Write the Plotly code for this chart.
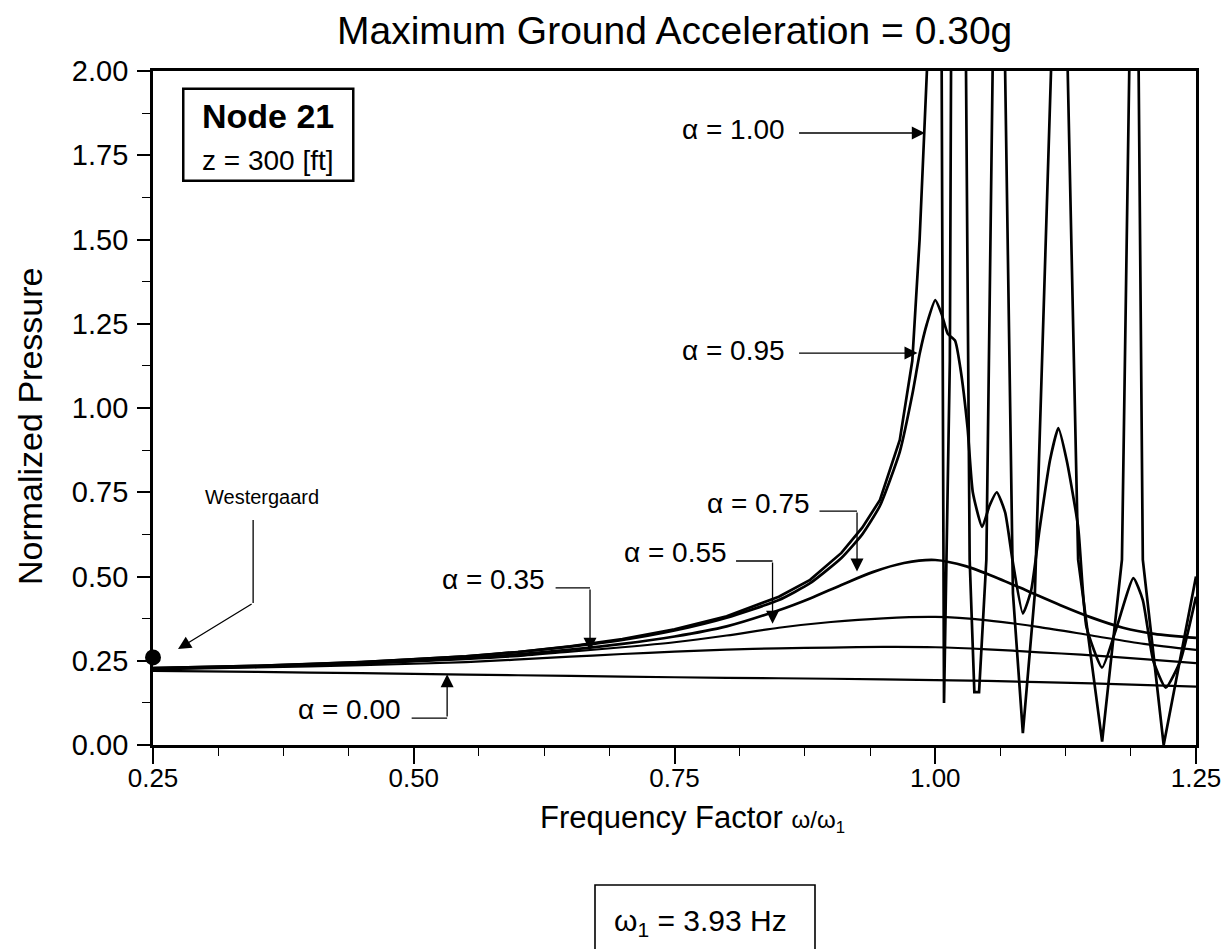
import plotly.graph_objects as go

# ---------------- data ----------------
x_a000 = [0.25, 0.35, 0.45, 0.55, 0.65, 0.75, 0.85, 0.95, 1.05, 1.15, 1.25]
y_a000 = [0.220, 0.217, 0.213, 0.209, 0.205, 0.201, 0.198, 0.195, 0.190, 0.183, 0.173]

x_a035 = [0.25, 0.35, 0.45, 0.55, 0.65, 0.70, 0.75, 0.80, 0.85, 0.90, 0.95, 1.00, 1.05, 1.10, 1.14, 1.20, 1.25]
y_a035 = [0.224, 0.230, 0.237, 0.246, 0.262, 0.270, 0.277, 0.283, 0.287, 0.289, 0.291, 0.290, 0.284, 0.275, 0.268, 0.255, 0.243]

x_a055 = [0.25, 0.35, 0.45, 0.55, 0.60, 0.65, 0.70, 0.75, 0.80, 0.85, 0.90, 0.95, 1.00, 1.05, 1.10, 1.15, 1.20, 1.25]
y_a055 = [0.226, 0.232, 0.241, 0.255, 0.264, 0.277, 0.290, 0.305, 0.325, 0.348, 0.365, 0.376, 0.380, 0.370, 0.350, 0.325, 0.300, 0.282]

x_a075 = [0.25, 0.35, 0.45, 0.55, 0.60, 0.65, 0.70, 0.75, 0.80, 0.85, 0.88, 0.91, 0.94, 0.97, 1.00,
          1.03, 1.06, 1.09, 1.12, 1.15, 1.18, 1.21, 1.25]
y_a075 = [0.227, 0.233, 0.243, 0.258, 0.269, 0.283, 0.300, 0.322, 0.352, 0.400, 0.435, 0.475, 0.513, 0.540, 0.549,
          0.530, 0.495, 0.455, 0.415, 0.378, 0.348, 0.330, 0.318]

x_a095 = [0.25, 0.35, 0.45, 0.55, 0.60, 0.65, 0.70, 0.75, 0.80, 0.85, 0.88, 0.91, 0.93, 0.947, 0.966, 0.978,
          0.985, 0.992, 1.000, 1.006, 1.012, 1.019, 1.024, 1.031, 1.036, 1.045, 1.052, 1.059, 1.067, 1.074,
          1.084, 1.092, 1.100, 1.110, 1.118, 1.126, 1.137, 1.145, 1.160, 1.174, 1.190, 1.199, 1.209, 1.221,
          1.235, 1.25]
y_a095 = [0.228, 0.235, 0.246, 0.263, 0.276, 0.292, 0.312, 0.340, 0.378, 0.430, 0.480, 0.555, 0.625, 0.710, 0.870, 1.040,
          1.160, 1.250, 1.320, 1.280, 1.220, 1.200, 1.120, 0.940, 0.750, 0.647, 0.710, 0.750, 0.690, 0.550,
          0.390, 0.460, 0.640, 0.845, 0.940, 0.845, 0.647, 0.350, 0.230, 0.350, 0.495, 0.430, 0.250, 0.170,
          0.250, 0.440]

x_a100 = [0.25, 0.35, 0.45, 0.55, 0.60, 0.65, 0.70, 0.75, 0.80, 0.85, 0.88, 0.91, 0.93, 0.947, 0.966, 0.978,
          0.985, 0.992, 0.999, 1.0065, 1.0084, 1.014, 1.016, 1.023, 1.0295, 1.033, 1.0375, 1.042, 1.049,
          1.055, 1.061, 1.067, 1.0745, 1.084, 1.0955, 1.111, 1.119, 1.127, 1.137, 1.160, 1.179, 1.186, 1.191,
          1.195, 1.199, 1.219, 1.25]
y_a100 = [0.228, 0.235, 0.246, 0.263, 0.276, 0.293, 0.314, 0.343, 0.382, 0.440, 0.490, 0.570, 0.645, 0.727, 0.905, 1.140,
          1.500, 2.000, 8.000, 2.000, 0.125, 1.140, 2.000, 8.000, 2.000, 0.550, 0.157, 0.157, 0.550,
          2.000, 8.000, 2.000, 0.450, 0.035, 0.450, 2.000, 8.000, 2.000, 0.550, 0.010, 0.550, 2.000, 8.000,
          2.000, 0.550, 0.000, 0.500]

westergaard_x = [0.25]
westergaard_y = [0.26]

x_tickvals = [0.25, 0.50, 0.75, 1.00, 1.25]
x_ticktext = ["0.25", "0.50", "0.75", "1.00", "1.25"]
y_tickvals = [0.00, 0.25, 0.50, 0.75, 1.00, 1.25, 1.50, 1.75, 2.00]
y_ticktext = ["0.00", "0.25", "0.50", "0.75", "1.00", "1.25", "1.50", "1.75", "2.00"]

title_text = "Maximum Ground Acceleration = 0.30g"
ylabel_text = "Normalized Pressure"
xlabel_text = 'Frequency Factor <span style="font-size:24px">ω/ω<sub>1</sub></span>'
omega_text = "ω<sub>1</sub> = 3.93 Hz"

FONT = "Liberation Sans, Arial, Helvetica, sans-serif"

# plot area in page pixels (page has an 8 px body margin)
PX0, PX1, PY0, PY1 = 153, 1196, 71, 745
def px(p):
    return (p - PX0) / (PX1 - PX0)
def py(p):
    return (PY1 - p) / (PY1 - PY0)

fig = go.Figure()
series = [(x_a000, y_a000, 2.2, "spline", 0.8), (x_a035, y_a035, 2.2, "spline", 0.8),
          (x_a055, y_a055, 2.2, "spline", 0.8), (x_a075, y_a075, 2.7, "spline", 0.8),
          (x_a095, y_a095, 2.7, "spline", 0.5), (x_a100, y_a100, 2.7, "linear", None)]
for xs, ys, w, shape, sm in series:
    line = dict(color="black", width=w, shape=shape)
    if sm is not None:
        line["smoothing"] = sm
    fig.add_trace(go.Scatter(x=xs, y=ys, mode="lines", line=line,
                             showlegend=False, hoverinfo="skip"))
fig.add_trace(go.Scatter(x=westergaard_x, y=westergaard_y, mode="markers",
                         marker=dict(color="black", size=16), cliponaxis=False,
                         showlegend=False, hoverinfo="skip"))

ann = []
shapes = []

def label(x, y, text, size=28, xanchor="right", xref="x", yref="y", bold=False, angle=0):
    ann.append(dict(x=x, y=y, xref=xref, yref=yref, text=("<b>%s</b>" % text) if bold else text,
                    showarrow=False, xanchor=xanchor, yanchor="middle", textangle=angle,
                    font=dict(family=FONT, size=size, color="black")))

def arrow(x0, y0, x1, y1):
    ann.append(dict(x=x1, y=y1, ax=x0, ay=y0, xref="x", yref="y", axref="x", ayref="y",
                    text="", showarrow=True, arrowhead=2, arrowsize=2.0, arrowwidth=1.3,
                    arrowcolor="black", standoff=0))

def path(pts):
    d = "M " + " L ".join("%g,%g" % p for p in pts)
    shapes.append(dict(type="path", path=d, xref="x", yref="y",
                       line=dict(color="black", width=1.3)))

# alpha labels with leader arrows
label(0.858, 1.825, "α = 1.00")
arrow(0.868, 1.816, 0.990, 1.816)
label(0.858, 1.172, "α = 0.95")
arrow(0.868, 1.163, 0.983, 1.163)

label(0.882, 0.718, "α = 0.75")
path([(0.889, 0.694), (0.925, 0.694)])
arrow(0.925, 0.694, 0.925, 0.515)

label(0.802, 0.570, "α = 0.55")
path([(0.809, 0.546), (0.844, 0.546)])
arrow(0.844, 0.546, 0.844, 0.360)

label(0.628, 0.490, "α = 0.35")
path([(0.636, 0.466), (0.669, 0.466)])
arrow(0.669, 0.466, 0.669, 0.280)

label(0.490, 0.104, "α = 0.00")
path([(0.498, 0.080), (0.532, 0.080)])
arrow(0.532, 0.080, 0.532, 0.210)

# Westergaard
label(0.3545, 0.736, "Westergaard", size=20, xanchor="center")
path([(0.346, 0.668), (0.346, 0.421)])
arrow(0.346, 0.421, 0.274, 0.285)

# Node box
shapes.append(dict(type="rect", xref="x", yref="y", x0=0.279, x1=0.442, y0=1.674, y1=1.947,
                   line=dict(color="black", width=2.5), fillcolor="white", layer="above"))
label(0.3605, 1.866, "Node 21", size=34, xanchor="center", bold=True)
label(0.3605, 1.733, "z = 300 [ft]", size=28, xanchor="center")

# title
label(0.5, py(30), title_text, size=39, xanchor="center", xref="paper", yref="paper")
# axis titles
label(px(692), py(818), xlabel_text, size=31, xanchor="center", xref="paper", yref="paper")
label(px(30), py(427), ylabel_text, size=34, xanchor="center", xref="paper", yref="paper", angle=-90)
# omega box
shapes.append(dict(type="rect", xref="paper", yref="paper", x0=px(595), x1=px(815),
                   y0=py(990), y1=py(885), line=dict(color="black", width=1.6)))
label(px(700), py(922), omega_text, size=30, xanchor="center", xref="paper", yref="paper")

fig.update_layout(
    width=1224, height=941, autosize=False,
    margin=dict(l=PX0 - 8, r=1232 - PX1, t=PY0 - 8, b=949 - PY1),
    paper_bgcolor="white", plot_bgcolor="white",
    annotations=ann, shapes=shapes,
    font=dict(family=FONT, size=26, color="black"),
    xaxis=dict(range=[0.25, 1.25], tickvals=x_tickvals, ticktext=x_ticktext,
               ticks="outside", ticklen=16, tickwidth=2, tickcolor="black",
               showline=True, linecolor="black", linewidth=2.5, mirror=True,
               showgrid=False, zeroline=False, tickfont=dict(size=26),
               ticklabelstandoff=-8,
               minor=dict(dtick=0.0625, tick0=0.25, ticks="outside", ticklen=8, tickwidth=1.3,
                          tickcolor="black", showgrid=False)),
    yaxis=dict(range=[0, 2.0], tickvals=y_tickvals, ticktext=y_ticktext,
               ticks="outside", ticklen=13, tickwidth=2, tickcolor="black",
               showline=True, linecolor="black", linewidth=2.8, mirror=True,
               showgrid=False, zeroline=False, tickfont=dict(size=29),
               ticklabelstandoff=3,
               minor=dict(dtick=0.125, tick0=0, ticks="outside", ticklen=8, tickwidth=1.3,
                          tickcolor="black", showgrid=False)),
)

fig.write_html("out.html")
